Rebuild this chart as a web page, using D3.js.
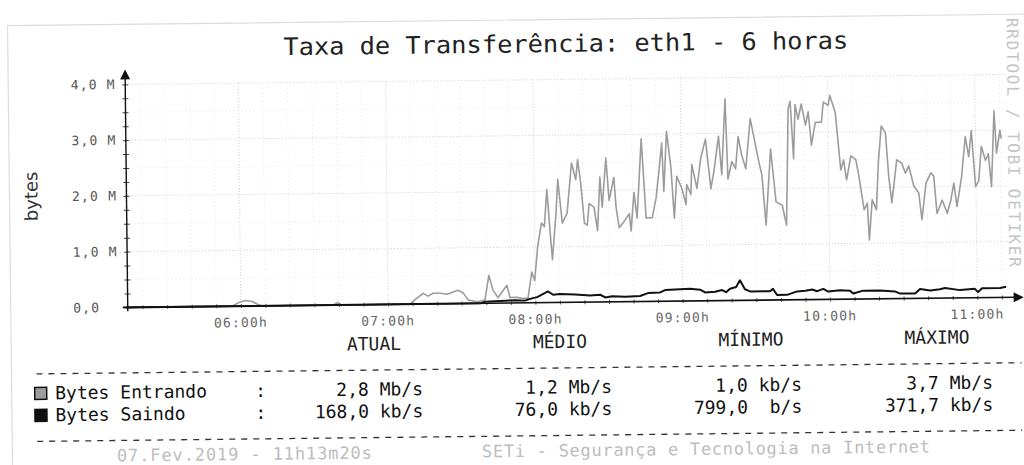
<!DOCTYPE html>
<html>
<head>
<meta charset="utf-8">
<script src="https://cdn.jsdelivr.net/npm/d3@7"></script>
<style>
  html, body { margin: 0; padding: 0; background: #fff; }
  svg { display: block; }
  text { white-space: pre; }
</style>
</head>
<body>
<svg id="chart" width="1024" height="465"></svg>
<script>
// ---------- DATA ----------
const titleText = "Taxa de Transferência: eth1 - 6 horas";
const yAxisLabel = "bytes";
const windowStart = "05:13:20";
const windowEnd = "11:13:20";

const yTickValues = [0, 1, 2, 3, 4];
const yTickLabels = ["0,0", "1,0 M", "2,0 M", "3,0 M", "4,0 M"];
const xTickTimes = ["06:00:00", "07:00:00", "08:00:00", "09:00:00", "10:00:00", "11:00:00"];
const xTickLabels = ["06:00h", "07:00h", "08:00h", "09:00h", "10:00h", "11:00h"];

// Bytes Entrando (M)
const inTimes = ["05:13:20","05:56:30","05:59:00","06:02:00","06:04:40","06:07:10","06:08:40","06:37:40","06:39:20","06:40:50",
"07:09:00","07:11:00","07:14:20","07:16:20","07:18:20","07:21:10","07:24:10","07:26:30","07:28:30","07:30:40",
"07:32:40","07:36:20","07:39:30","07:41:10","07:42:50","07:44:50","07:48:30","07:49:40","07:52:40","07:55:00",
"07:57:00","07:58:40","07:59:50","08:01:10","08:02:50","08:04:00","08:05:10","08:06:20","08:07:10","08:08:50",
"08:09:40","08:11:20","08:13:20","08:15:20","08:17:00","08:17:50","08:19:00","08:20:20","08:21:30","08:22:20",
"08:24:20","08:25:40","08:26:50","08:27:40","08:29:20","08:30:30","08:32:30","08:33:20","08:34:30","08:36:40",
"08:38:40","08:39:20","08:40:40","08:41:50","08:43:50","08:45:30","08:48:00","08:49:40","08:50:50","08:52:10",
"08:52:50","08:54:10","08:55:50","08:57:00","08:58:10","09:00:10","09:01:50","09:02:10","09:03:50","09:04:20",
"09:06:20","09:08:00","09:10:00","09:12:00","09:13:20","09:15:20","09:16:30","09:18:10","09:19:00","09:20:40",
"09:22:10","09:23:20","09:24:40","09:26:20","09:28:20","09:30:20","09:31:40","09:32:50","09:34:20","09:36:30",
"09:38:30","09:41:00","09:42:40","09:43:50","09:44:40","09:45:50","09:46:40","09:47:50","09:49:10","09:50:50",
"09:52:00","09:53:10","09:54:50","09:57:20","09:58:10","10:00:10","10:00:50","10:03:00","10:05:00","10:06:10",
"10:07:20","10:09:10","10:11:10","10:12:20","10:14:20","10:15:40","10:16:20","10:17:40","10:19:20","10:20:20",
"10:21:40","10:23:20","10:24:30","10:25:40","10:27:50","10:29:50","10:31:20","10:32:40","10:34:40","10:36:40",
"10:37:50","10:39:40","10:41:40","10:42:50","10:44:00","10:46:10","10:48:10","10:49:40","10:51:00","10:52:10",
"10:54:10","10:55:50","10:57:10","10:58:20","10:59:50","11:01:10","11:02:20","11:04:00","11:05:10","11:06:20",
"11:07:40","11:08:30","11:10:00","11:10:30"];
const inValues = [0,0,0.06,0.1,0.08,0.02,0,0,0.04,0,
0,0.08,0.19,0.14,0.19,0.19,0.17,0.21,0.24,0.19,
0.06,0.03,0.06,0.5,0.23,0.1,0.32,0.1,0.1,0.08,
0.08,0.55,0.4,1.0,1.43,1.36,2.03,1.26,0.77,1.61,
2.21,1.42,1.6,2.5,2.2,2.56,2.14,1.42,1.38,1.77,
1.7,1.28,2.24,1.7,2.58,1.82,2.23,1.69,1.33,1.45,
1.58,1.27,1.96,1.5,2.92,1.5,1.5,1.86,2.3,2.84,
1.97,3.05,2.39,1.49,2.24,2.02,1.73,2.09,1.91,2.45,
2.02,2.56,2.9,2.01,2.32,2.95,2.26,3.62,2.18,2.49,
2.36,2.94,2.61,2.36,3.26,2.79,2.48,2.25,1.35,2.71,
1.76,1.7,1.34,3.43,3.56,2.53,3.5,3.24,3.51,3.13,
3.37,2.77,3.18,3.18,3.54,3.48,3.66,3.35,2.32,2.5,
2.14,2.57,2.5,2.21,1.6,1.72,1.06,1.78,1.6,2.44,
3.1,2.98,2.2,1.72,2.49,2.43,2.25,2.38,2.02,1.89,
1.41,2.07,2.25,2.19,1.52,1.76,1.52,1.75,2.06,1.64,
2.17,2.89,2.53,3.0,1.99,2.1,2.71,2.46,2.58,1.99,
3.35,2.59,3.0,2.85];

// Bytes Saindo (M)
const outTimes = ["05:13:20","07:37:30","07:39:30","07:45:40","07:51:50","07:55:50","07:57:50","08:00:45","08:05:10","08:07:15",
"08:10:05","08:16:10","08:22:20","08:26:25","08:28:30","08:31:20","08:36:35","08:42:40","08:45:55","08:50:50",
"08:52:55","08:57:00","09:03:05","09:07:10","09:09:10","09:13:15","09:16:05","09:17:45","09:19:20","09:21:50",
"09:23:25","09:25:25","09:27:30","09:35:40","09:36:50","09:38:30","09:42:35","09:46:40","09:50:00","09:52:50",
"09:54:50","09:57:20","09:59:20","10:04:10","10:08:15","10:09:30","10:13:35","10:20:25","10:26:30","10:28:35",
"10:34:40","10:36:45","10:40:50","10:44:50","10:46:55","10:53:00","10:59:05","11:00:20","11:02:00","11:09:20",
"11:11:50"];
const outValues = [0,0,0.03,0.04,0.05,0.04,0.07,0.1,0.2,0.14,
0.15,0.14,0.12,0.13,0.08,0.1,0.09,0.1,0.15,0.16,
0.2,0.21,0.22,0.2,0.15,0.16,0.19,0.15,0.21,0.24,
0.36,0.2,0.16,0.16,0.2,0.09,0.09,0.15,0.16,0.18,
0.15,0.19,0.14,0.16,0.15,0.1,0.15,0.15,0.13,0.09,
0.09,0.17,0.14,0.16,0.18,0.14,0.16,0.1,0.17,0.17,
0.19];

const legendHeaders = ["ATUAL", "MÉDIO", "MÍNIMO", "MÁXIMO"];
const seriesNames = ["Bytes Entrando", "Bytes Saindo"];
const inStats = ["2,8 Mb/s", "1,2 Mb/s", "1,0 kb/s", "3,7 Mb/s"];
const outStats = ["168,0 kb/s", "76,0 kb/s", "799,0  b/s", "371,7 kb/s"];
const footerLeft = "07.Fev.2019 - 11h13m20s";
const footerRight = "SETi - Segurança e Tecnologia na Internet";
const sideText = "RRDTOOL / TOBI OETIKER";

// ---------- DRAW ----------
const MONO = "'DejaVu Sans Mono', 'Liberation Mono', monospace";
const SANS = "'DejaVu Sans', 'Liberation Sans', sans-serif";
const parseT = d3.timeParse("%H:%M:%S");

const svg = d3.select("#chart");
svg.append("rect").attr("width", 1024).attr("height", 465).attr("fill", "#fff");

// the scanned page is slightly tilted
const g = svg.append("g").attr("transform", "rotate(-0.65,512,240)");

// page frame
g.append("rect").attr("x", 10).attr("y", 20).attr("width", 1060).attr("height", 480)
  .attr("fill", "none").attr("stroke", "#dcdcdc").attr("stroke-width", 1.2);

const x = d3.scaleTime().domain([parseT(windowStart), parseT(windowEnd)]).range([125.5, 1009.3]);
const y = d3.scaleLinear().domain([0, 4]).range([303, 80]);

// minor grid
const minorTimes = d3.timeMinute.every(10).range(parseT(windowStart), parseT(windowEnd));
g.append("g").selectAll("line").data(minorTimes.filter(t => t.getMinutes() !== 0)).join("line")
  .attr("x1", d => x(d)).attr("x2", d => x(d)).attr("y1", y(0)).attr("y2", y(4))
  .attr("stroke", "#e6e6e6").attr("stroke-dasharray", "1,3");
g.append("g").selectAll("line").data(d3.range(0.5, 4, 1)).join("line")
  .attr("x1", 127).attr("x2", 1009).attr("y1", d => y(d)).attr("y2", d => y(d))
  .attr("stroke", "#e6e6e6").attr("stroke-dasharray", "1,3");
// major grid
g.append("g").selectAll("line").data(xTickTimes.map(parseT)).join("line")
  .attr("x1", d => x(d)).attr("x2", d => x(d)).attr("y1", y(0)).attr("y2", y(4))
  .attr("stroke", "#cfcfcf").attr("stroke-dasharray", "1,2");
g.append("g").selectAll("line").data(yTickValues.slice(1)).join("line")
  .attr("x1", 127).attr("x2", 1009).attr("y1", d => y(d)).attr("y2", d => y(d))
  .attr("stroke", "#cfcfcf").attr("stroke-dasharray", "1,2");

// series
const inData = inTimes.map((t, i) => ({ t: parseT(t), v: inValues[i] }));
const outData = outTimes.map((t, i) => ({ t: parseT(t), v: outValues[i] }));
const line = d3.line().x(d => x(d.t)).y(d => y(d.v));
g.append("path").datum(inData).attr("d", line).attr("fill", "none")
  .attr("stroke", "#9c9c9c").attr("stroke-width", 1.6).attr("stroke-linejoin", "round");
g.append("path").datum(outData).attr("d", line).attr("fill", "none")
  .attr("stroke", "#111").attr("stroke-width", 2).attr("stroke-linejoin", "round");

// axes (drawn with d3 axis generators, then styled)
const yAxis = d3.axisLeft(y).tickValues(d3.range(0, 4.01, 0.25)).tickSize(3).tickFormat("");
const yAx = g.append("g").attr("transform", "translate(127,0)").call(yAxis);
yAx.select(".domain").remove();
yAx.selectAll(".tick line").attr("stroke", "#444").attr("x2", 3).attr("x1", -3);

const xAxis = d3.axisBottom(x).ticks(d3.timeMinute.every(10)).tickSize(3).tickFormat("");
const xAx = g.append("g").attr("transform", `translate(0,${y(0)})`).call(xAxis);
xAx.select(".domain").remove();
xAx.selectAll(".tick line").attr("stroke", "#555").attr("y1", -2).attr("y2", 2);

g.append("line").attr("x1", 122).attr("x2", 1016).attr("y1", y(0)).attr("y2", y(0))
  .attr("stroke", "#111").attr("stroke-width", 1.6);
g.append("line").attr("x1", 127).attr("x2", 127).attr("y1", y(0) + 4).attr("y2", 72)
  .attr("stroke", "#111").attr("stroke-width", 1.4);
g.append("path").attr("d", "M127,65 L122,75 L132,75 Z").attr("fill", "#111");
g.append("path").attr("d", `M1023,${y(0)} L1013,${y(0) - 5} L1013,${y(0) + 5} Z`).attr("fill", "#111");

// tick labels
g.append("g").selectAll("text").data(yTickValues).join("text")
  .attr("x", 72.5).attr("y", d => y(d) + 4.5)
  .attr("font-family", MONO).attr("font-size", 13).attr("letter-spacing", 1.2)
  .attr("fill", "#555").text((d, i) => yTickLabels[i]);
g.append("g").selectAll("text").data(xTickTimes).join("text")
  .attr("x", d => x(parseT(d))).attr("y", 324).attr("text-anchor", "middle")
  .attr("font-family", MONO).attr("font-size", 13).attr("letter-spacing", 1.2)
  .attr("fill", "#666").text((d, i) => xTickLabels[i]);

// title
g.append("text").attr("x", 568).attr("y", 52.5).attr("text-anchor", "middle")
  .attr("font-family", MONO).attr("font-size", 24).attr("fill", "#222")
  .attr("textLength", 565).attr("lengthAdjust", "spacingAndGlyphs").text(titleText);

// y label
g.append("text").attr("transform", "translate(38,191) rotate(-90)").attr("text-anchor", "middle")
  .attr("font-family", SANS).attr("font-size", 18).attr("fill", "#333").text(yAxisLabel);

// side text
g.append("text").attr("transform", "translate(1009,148) rotate(90)").attr("text-anchor", "middle")
  .attr("font-family", MONO).attr("font-size", 16).attr("fill", "#c4c4c4")
  .attr("textLength", 249).attr("lengthAdjust", "spacing").text(sideText);

// legend headers
const headerX = [372.8, 558.8, 749.8, 935.8];
g.append("g").selectAll("text").data(legendHeaders).join("text")
  .attr("x", (d, i) => headerX[i]).attr("y", 348.5).attr("text-anchor", "middle")
  .attr("font-family", MONO).attr("font-size", 18).attr("fill", "#222").text(d => d);

// dashed separators
[368.5, 436].forEach(yy => {
  g.append("line").attr("x1", 35).attr("x2", 1020).attr("y1", yy).attr("y2", yy)
    .attr("stroke", "#333").attr("stroke-width", 1.3).attr("stroke-dasharray", "6,6");
});

// legend rows
const rowY = [394, 416];
const swatchFill = ["#9c9c9c", "#111"];
const stats = [inStats, outStats];
const valueRight = [421.3, 610.3, 800.3, 991.3];
seriesNames.forEach((name, r) => {
  g.append("rect").attr("x", 33).attr("y", rowY[r] - 12).attr("width", 12).attr("height", 12)
    .attr("fill", swatchFill[r]).attr("stroke", "#111").attr("stroke-width", 1.5);
  g.append("text").attr("x", 53.5).attr("y", rowY[r]).attr("font-family", MONO).attr("font-size", 18)
    .attr("fill", "#111").text(name);
  g.append("text").attr("x", 259).attr("y", rowY[r]).attr("text-anchor", "middle").attr("font-family", MONO)
    .attr("font-size", 18).attr("fill", "#111").text(":");
  g.append("g").selectAll("text").data(stats[r]).join("text")
    .attr("x", (d, i) => valueRight[i]).attr("y", rowY[r]).attr("text-anchor", "end")
    .attr("font-family", MONO).attr("font-size", 18).attr("fill", "#111").text(d => d);
});

// footer
g.append("text").attr("x", 114.5).attr("y", 457).attr("font-family", MONO).attr("font-size", 17)
  .attr("fill", "#bdbdbd").attr("textLength", 255).attr("lengthAdjust", "spacing").text(footerLeft);
g.append("text").attr("x", 479.6).attr("y", 457).attr("font-family", MONO).attr("font-size", 17)
  .attr("fill", "#bdbdbd").attr("textLength", 448).attr("lengthAdjust", "spacing").text(footerRight);
</script>
</body>
</html>
